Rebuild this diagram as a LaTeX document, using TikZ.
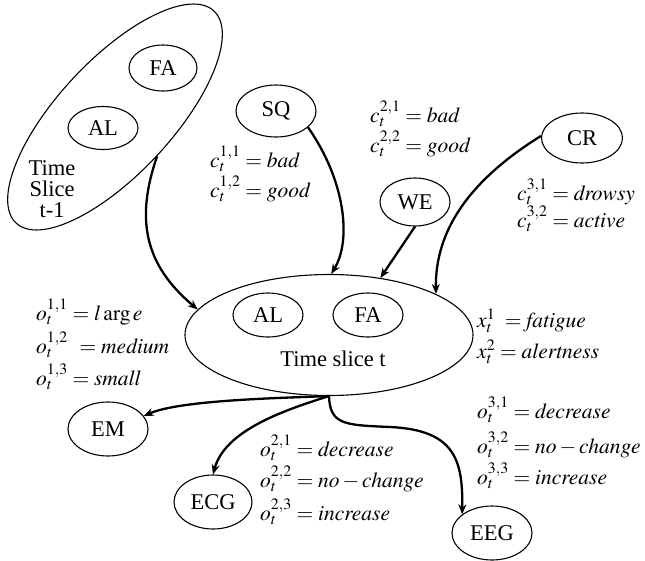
\documentclass[tikz,border=0pt]{standalone}
\usepackage{mathptmx}
\usepackage[no-math]{fontspec}
\setmainfont{Liberation Serif}
\usetikzlibrary{shapes.geometric,arrows.meta}
\begin{document}
\begin{tikzpicture}[x=1pt,y=-1pt,
  var/.style={draw, ellipse, line width=1.1pt, inner sep=0pt, font=\fontsize{22.5}{24}\selectfont},
  txt/.style={inner sep=0pt, font=\fontsize{22.5}{21}\selectfont, align=center},
  lbl/.style={anchor=base west, inner sep=0pt, font=\fontsize{21.5}{24}\selectfont},
  arr/.style={line width=2.3pt, -{Stealth[length=10pt,width=8pt]}}]
\useasboundingbox (0,0) rectangle (645,560);
% time slice t-1
\node[var, rotate=47, minimum width=290, minimum height=114] (prev) at (115,117) {};
\node[var, minimum width=68, minimum height=46] (pfa) at (163,68) {FA};
\node[var, minimum width=70, minimum height=43] (pal) at (103,128) {AL};
\node[txt] (ptxt) at (52,189) {Time\\Slice\\t-1};
% context nodes
\node[var, minimum width=80, minimum height=52] (sq) at (276,111) {SQ};
\node[var, minimum width=70, minimum height=48] (we) at (415,202) {WE};
\node[var, minimum width=81, minimum height=50] (cr) at (582,138) {CR};
% time slice t
\node[var, minimum width=288, minimum height=121] (cur) at (329,335) {};
\node[var, minimum width=70, minimum height=44] (cal) at (268,315) {AL};
\node[var, minimum width=70, minimum height=44] (cfa) at (368,315) {FA};
\node[txt] (ctxt) at (333,359) {Time slice t};
% observations
\node[var, minimum width=80, minimum height=54] (em) at (108,429) {EM};
\node[var, minimum width=78, minimum height=54] (ecg) at (213,502) {ECG};
\node[var, minimum width=80, minimum height=54] (eeg) at (492,533) {EEG};
% labels
\node[lbl] (c11) at (210,167) {$c_t^{1,1} = \mathit{bad}$};
\node[lbl] (c12) at (210,197) {$c_t^{1,2} = \mathit{good}$};
\node[lbl] (c21) at (370,122) {$c_t^{2,1} = \mathit{bad}$};
\node[lbl] (c22) at (370,152) {$c_t^{2,2} = \mathit{good}$};
\node[lbl] (c31) at (517,200) {$c_t^{3,1} = \mathit{drowsy}$};
\node[lbl] (c32) at (517,227) {$c_t^{3,2} = \mathit{active}$};
\node[lbl] (o11) at (36,320) {$o_t^{1,1} = l\arg e$};
\node[lbl] (o12) at (36,353) {$o_t^{1,2}\;\, = \mathit{medium}$};
\node[lbl] (o13) at (36,385) {$o_t^{1,3} = \mathit{small}$};
\node[lbl] (x1) at (477,327) {$x_t^1 \;= \mathit{fatigue}$};
\node[lbl] (x2) at (477,358) {$x_t^2 = \mathit{alertness}$};
\node[lbl] (o21) at (260,456) {$o_t^{2,1} = \mathit{decrease}$};
\node[lbl] (o22) at (260,487) {$o_t^{2,2} = \mathit{no}-\mathit{change}$};
\node[lbl] (o23) at (260,520) {$o_t^{2,3} = \mathit{increase}$};
\node[lbl] (o31) at (477,418) {$o_t^{3,1} = \mathit{decrease}$};
\node[lbl] (o32) at (477,453) {$o_t^{3,2} = \mathit{no}-\mathit{change}$};
\node[lbl] (o33) at (477,484) {$o_t^{3,3} = \mathit{increase}$};
% arrows
\draw[arr] (prev.south) .. controls (135,220) and (145,265) .. (cur.169);
\draw[arr] (sq.-27) .. controls (345,180) and (352,240) .. (cur.88);
\draw[arr] (we.south) -- (cur.48);
\draw[arr] (cr.177) .. controls (470,180) and (435,230) .. (cur.21);
\draw[arr] (cur.south) .. controls (280,398) and (180,400) .. (em.20);
\draw[arr] (cur.south) .. controls (285,410) and (225,430) .. (ecg.north);
\draw[arr] (cur.south) .. controls (330,425) and (345,425) .. (390,427) .. controls (455,430) and (463,460) .. (eeg.148);
\end{tikzpicture}
\end{document}
